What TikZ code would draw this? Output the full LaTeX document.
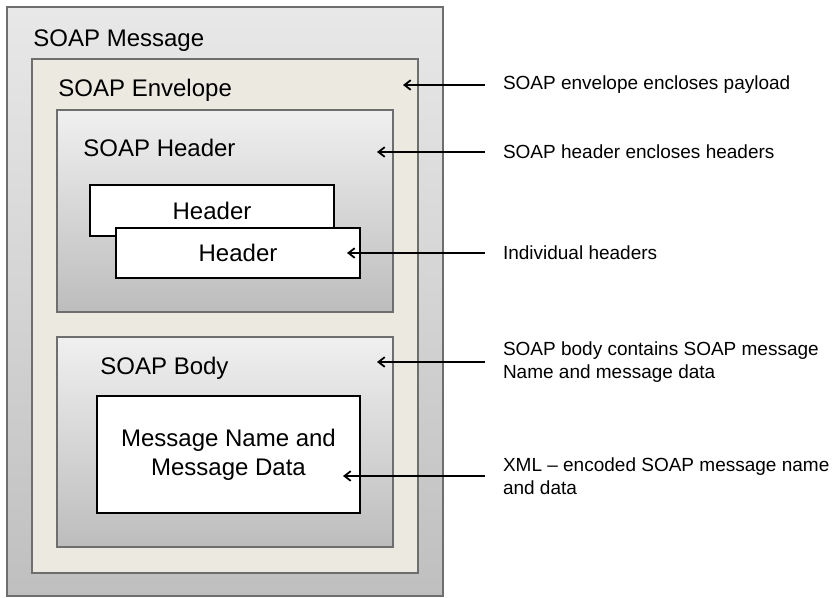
\documentclass[tikz,border=0pt]{standalone}
\usepackage{fontspec}
\setmainfont{Liberation Sans}
\usetikzlibrary{arrows.meta}
\definecolor{crema}{RGB}{236,234,224}
\definecolor{borde}{RGB}{110,110,110}

\begin{document}
\begin{tikzpicture}[x=1pt,y=-1pt,line width=0.9pt,>={Straight Barb[length=2.2mm,width=3.4mm]},
  caja/.style={draw=borde,line width=1.1pt,anchor=north west,inner sep=0pt,outer sep=0pt},
  gris/.style={caja,top color=black!6,bottom color=black!26},
  hoja/.style={draw=black,line width=1.5pt,fill=white,anchor=north west,inner sep=0pt,outer sep=0pt,align=center,font=\fontsize{24}{29}\selectfont},
  titulo/.style={anchor=base west,inner sep=0pt,font=\fontsize{24}{29}\selectfont},
  nota/.style={anchor=west,inner xsep=18pt,inner ysep=0pt,outer sep=0pt,align=left,font=\fontsize{19}{23}\selectfont}]
  \useasboundingbox (0,0) rectangle (837,597);
  % cajas anidadas
  \node[caja,top color=black!9,bottom color=black!25,minimum width=436pt,minimum height=589pt] (msg) at (7,7) {};
  \node[caja,fill=crema,minimum width=386pt,minimum height=514pt] (env) at (32,59) {};
  \node[gris,minimum width=336pt,minimum height=202pt] (hdr) at (57,110) {};
  \node[gris,minimum width=336pt,minimum height=210pt] (body) at (57,337) {};
  \node[hoja,minimum width=244pt,minimum height=51pt] (h1) at (90,185) {Header};
  \node[hoja,minimum width=244pt,minimum height=50pt] (h2) at (116,228) {Header};
  \node[hoja,minimum width=263pt,minimum height=117pt] (datos) at (97,396) {Message Name and\\Message Data};
  % titulos
  \node[titulo] (tMsg) at (33,46.5) {SOAP Message};
  \node[titulo] (tEnv) at (58,96.5) {SOAP Envelope};
  \node[titulo] (tHdr) at (83,156.5) {SOAP Header};
  \node[titulo] (tBody) at (100,374.5) {SOAP Body};
  % notas con flechas
  \coordinate (pEnv) at (403,85);
  \coordinate (pHdr) at (377,152);
  \coordinate (pInd) at (347,253);
  \coordinate (pBody) at (377,362);
  \coordinate (pXml) at (343,476);
  \node[nota] (nEnv) at (485,85) {SOAP envelope encloses payload};
  \node[nota] (nHdr) at (485,152) {SOAP header encloses headers};
  \node[nota] (nInd) at (485,253) {Individual headers};
  \node[nota] (nBody) at (485,362) {SOAP body contains SOAP message\\Name and message data};
  \node[nota] (nXml) at (485,476) {XML -- encoded SOAP message name\\and data};
  \foreach \n/\p in {nEnv/pEnv,nHdr/pHdr,nInd/pInd,nBody/pBody,nXml/pXml}
    \draw[->,line width=1.8pt] (\n.west) -- (\p);
\end{tikzpicture}
\end{document}
